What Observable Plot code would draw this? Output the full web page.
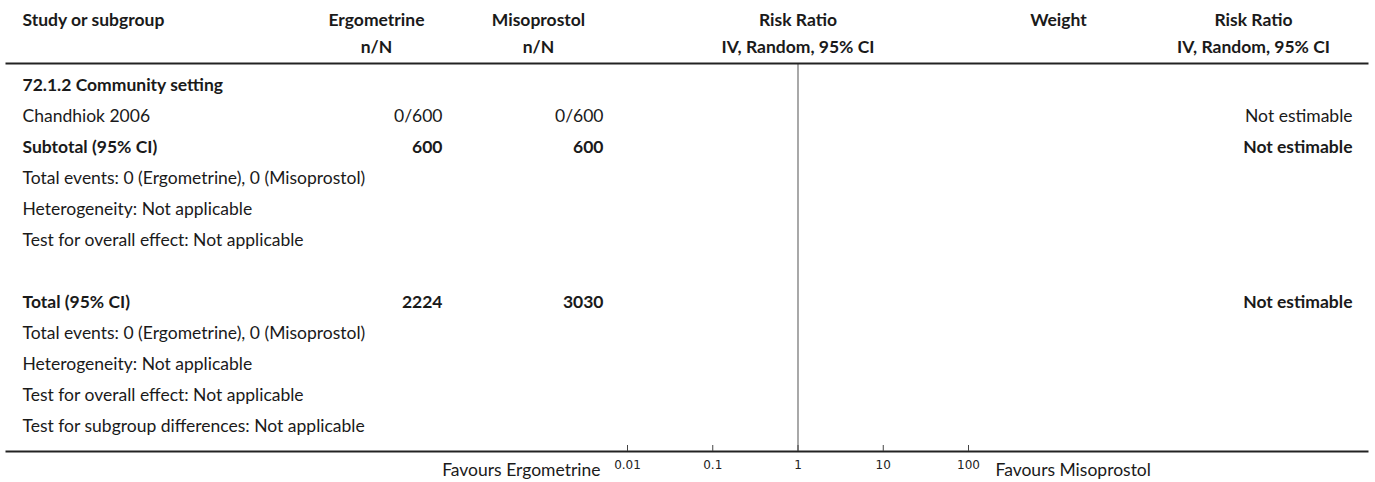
<!DOCTYPE html>
<html>
<head>
<meta charset="utf-8">
<script src="https://cdn.jsdelivr.net/npm/d3@7"></script>
<script src="https://cdn.jsdelivr.net/npm/@observablehq/plot@0.6"></script>
<style>
  html, body { margin: 0; padding: 0; background: #fff; }
  #chart svg { display: block; }
</style>
</head>
<body>
<div id="chart"></div>
<script>
// ---- data ----
const headerRow1 = ["Study or subgroup", "Ergometrine", "Misoprostol", "Risk Ratio", "Weight", "Risk Ratio"];
const headerRow2 = ["", "n/N", "n/N", "IV, Random, 95% CI", "", "IV, Random, 95% CI"];
const rowLabels = [
  "72.1.2 Community setting",
  "Chandhiok 2006",
  "Subtotal (95% CI)",
  "Total events: 0 (Ergometrine), 0 (Misoprostol)",
  "Heterogeneity: Not applicable",
  "Test for overall effect: Not applicable",
  "",
  "Total (95% CI)",
  "Total events: 0 (Ergometrine), 0 (Misoprostol)",
  "Heterogeneity: Not applicable",
  "Test for overall effect: Not applicable",
  "Test for subgroup differences: Not applicable"
];
const rowBold = [true, false, true, false, false, false, false, true, false, false, false, false];
const ergometrine = ["", "0/600", "600", "", "", "", "", "2224", "", "", "", ""];
const misoprostol = ["", "0/600", "600", "", "", "", "", "3030", "", "", "", ""];
const riskRatioText = ["", "Not estimable", "Not estimable", "", "", "", "", "Not estimable", "", "", "", ""];
const axisTicks = [0.01, 0.1, 1, 10, 100];
const favours = ["Favours Ergometrine", "Favours Misoprostol"];
const nullEffect = [1];

// ---- layout ----
const W = 1375, H = 482;
const mL = 627, mR = 407, mT = 63, mB = 31;
const FONT = "Lato, 'Open Sans', sans-serif";
const FS = 17.5;
const ink = "#1a1a1a";

const rows = rowLabels.map((label, i) => ({
  i, label, bold: rowBold[i], erg: ergometrine[i], miso: misoprostol[i], rr: riskRatioText[i]
}));
const normal = rows.filter(d => !d.bold);
const bold = rows.filter(d => d.bold);

// header column anchors (offset from frame left / right)
const hdr = [
  {anchor: "top-left", dx: -605, ta: "start"},
  {anchor: "top-left", dx: -251, ta: "middle"},
  {anchor: "top-left", dx: -89, ta: "middle"},
  {anchor: "top", dx: 0, ta: "middle", x: 1},
  {anchor: "top-right", dx: 90, ta: "middle"},
  {anchor: "top-right", dx: 285, ta: "middle"}
];

function headerMarks(labels, dy, weight) {
  return labels.map((t, k) => {
    const h = hdr[k];
    if (!t) return null;
    const opts = {text: d => d, frameAnchor: h.anchor, lineAnchor: "middle", dx: h.dx, dy, textAnchor: h.ta,
      fontWeight: weight, fontSize: FS, fontFamily: FONT, fill: ink};
    if (h.x !== undefined) opts.x = () => h.x;
    return Plot.text([t], opts);
  }).filter(Boolean);
}

function rowText(data, weight) {
  return [
    Plot.text(data, {y: "i", text: "label", frameAnchor: "left", dx: -605, textAnchor: "start",
      fontWeight: weight, fontSize: FS, fontFamily: FONT, fill: ink}),
    Plot.text(data, {y: "i", text: "erg", frameAnchor: "left", dx: -185, textAnchor: "end",
      fontWeight: weight, fontSize: FS, fontFamily: FONT, fill: ink}),
    Plot.text(data, {y: "i", text: "miso", frameAnchor: "left", dx: -24, textAnchor: "end",
      fontWeight: weight, fontSize: FS, fontFamily: FONT, fill: ink}),
    Plot.text(data, {y: "i", text: "rr", frameAnchor: "right", dx: 384, textAnchor: "end",
      fontWeight: weight, fontSize: FS, fontFamily: FONT, fill: ink})
  ];
}

const frameH = H - mT - mB;

const chart = Plot.plot({
  width: W,
  height: H,
  marginLeft: mL,
  marginRight: mR,
  marginTop: mT,
  marginBottom: mB,
  style: {fontFamily: FONT, background: "#fff", overflow: "visible"},
  x: {type: "log", domain: [0.01, 100], axis: null},
  y: {type: "point", domain: rows.map(d => d.i), range: [83, 428], padding: 0, axis: null},
  marks: [
    // null-effect line
    Plot.ruleX(nullEffect, {stroke: "#7a7a7a", strokeWidth: 1.3}),
    // header rule and bottom rule across the whole table
    Plot.frame({anchor: "top", insetLeft: -621, insetRight: -399, stroke: "#222", strokeWidth: 2}),
    Plot.frame({anchor: "bottom", insetLeft: -621, insetRight: -399, stroke: "#222", strokeWidth: 2}),
    // axis ticks pointing upward
    Plot.ruleX(axisTicks, {insetTop: frameH - 6, stroke: "#444", strokeWidth: 1}),
    Plot.axisX({ticks: axisTicks, tickSize: 0, tickPadding: 9, tickFormat: d => String(d),
      fontSize: 12, fontFamily: "DejaVu Sans", fill: "#222"}),
    ...headerMarks(headerRow1, -43, "bold"),
    ...headerMarks(headerRow2, -16, "bold"),
    ...rowText(normal, "normal"),
    ...rowText(bold, "bold"),
    Plot.text([favours[0]], {text: d => d, frameAnchor: "bottom-left", lineAnchor: "middle", dx: -27, dy: 19,
      textAnchor: "end", fontSize: FS, fontFamily: FONT, fill: ink}),
    Plot.text([favours[1]], {text: d => d, frameAnchor: "bottom-right", lineAnchor: "middle", dx: 27, dy: 19,
      textAnchor: "start", fontSize: FS, fontFamily: FONT, fill: ink})
  ]
});
document.getElementById("chart").appendChild(chart);
</script>
</body>
</html>
